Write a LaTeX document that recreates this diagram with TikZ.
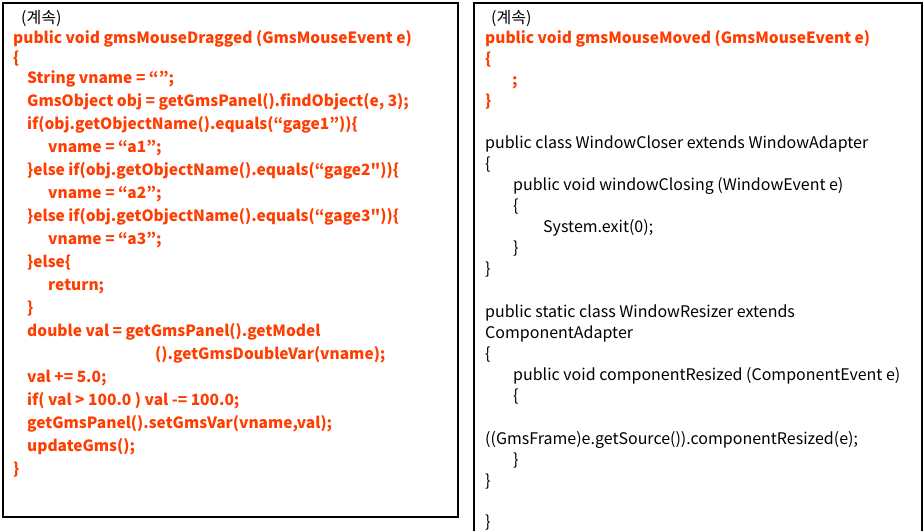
\documentclass[tikz,border=0pt]{standalone}
\usepackage{fontspec}
\setmainfont{Noto Sans CJK KR}[Ligatures=TeXOff]
\usepackage{tikz}
\definecolor{codered}{HTML}{FF3D00}
\tikzset{
	codeline/.style={anchor=base west, inner sep=0pt, font=\fontsize{16}{20}\selectfont},
	hotline/.style={codeline, text=codered, font=\fontsize{15.5}{20}\selectfont\bfseries},
	plainline/.style={codeline, text=black}
}

\begin{document}
\begin{tikzpicture}[x=1pt, y=-1pt]
			%%%%% START %%%%%
			\useasboundingbox (0, 0) rectangle (923, 531);
			
			\draw[line width=1.5pt] (3, 3) rectangle (458, 517);
			\draw[line width=1.5pt] (474, 531) -- (474, 3) -- (922, 3) -- (922, 531);
			
			\node[plainline] (lcont) at (21, 23) {(계속)};
			\node[hotline] (l1) at (13, 43) {public void gmsMouseDragged (GmsMouseEvent e)};
			\node[hotline] (l2) at (13, 63) {\{};
			\node[hotline] (l3) at (27, 83) {String vname = “”;};
			\node[hotline] (l4) at (27, 106) {GmsObject obj = getGmsPanel().findObject(e, 3);};
			\node[hotline] (l5) at (27, 129) {if(obj.getObjectName().equals(“gage1”))\{};
			\node[hotline] (l6) at (48, 152) {vname = “a1”;};
			\node[hotline] (l7) at (27, 175) {\}else if(obj.getObjectName().equals(“gage2"))\{};
			\node[hotline] (l8) at (48, 198) {vname = “a2”;};
			\node[hotline] (l9) at (27, 221) {\}else if(obj.getObjectName().equals(“gage3"))\{};
			\node[hotline] (l10) at (48, 244) {vname = “a3”;};
			\node[hotline] (l11) at (27, 267) {\}else\{};
			\node[hotline] (l12) at (48, 290) {return;};
			\node[hotline] (l13) at (27, 313) {\}};
			\node[hotline] (l14) at (27, 336) {double val = getGmsPanel().getModel};
			\node[hotline] (l15) at (155, 359) {().getGmsDoubleVar(vname);};
			\node[hotline] (l16) at (27, 382) {val += 5.0;};
			\node[hotline] (l17) at (27, 405) {if( val > 100.0 ) val -= 100.0;};
			\node[hotline] (l18) at (27, 428) {getGmsPanel().setGmsVar(vname,val);};
			\node[hotline] (l19) at (27, 451) {updateGms();};
			\node[hotline] (l20) at (13, 474) {\}};
			
			\node[plainline] (rcont) at (491, 23) {(계속)};
			\node[hotline] (r1) at (485, 43) {public void gmsMouseMoved (GmsMouseEvent e)};
			\node[hotline] (r2) at (485, 64) {\{};
			\node[hotline] (r3) at (512, 85) {;};
			\node[hotline] (r4) at (485, 106) {\}};
			
			\node[plainline] (r5) at (485, 148) {public class WindowCloser extends WindowAdapter};
			\node[plainline] (r6) at (485, 169) {\{};
			\node[plainline] (r7) at (513, 190) {public void windowClosing (WindowEvent e)};
			\node[plainline] (r8) at (513, 211) {\{};
			\node[plainline] (r9) at (543, 232) {System.exit(0);};
			\node[plainline] (r10) at (513, 253) {\}};
			\node[plainline] (r11) at (485, 274) {\}};
			
			\node[plainline] (r12) at (485, 317) {public static class WindowResizer extends};
			\node[plainline] (r13) at (485, 338) {ComponentAdapter};
			\node[plainline] (r14) at (485, 359) {\{};
			\node[plainline] (r15) at (513, 380) {public void componentResized (ComponentEvent e)};
			\node[plainline] (r16) at (513, 401) {\{};
			\node[plainline] (r17) at (485, 444) {((GmsFrame)e.getSource()).componentResized(e);};
			\node[plainline] (r18) at (513, 465) {\}};
			\node[plainline] (r19) at (485, 486) {\}};
			\node[plainline] (r20) at (485, 527) {\}};
			
			%%%%% END %%%%%
		\end{tikzpicture}
\end{document}
